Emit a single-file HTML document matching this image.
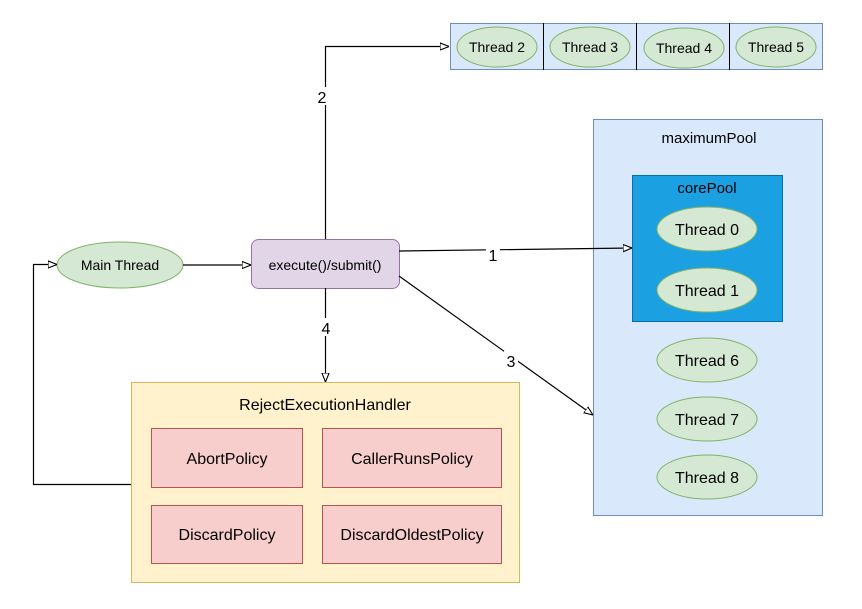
<!DOCTYPE html>
<html><head><meta charset="utf-8"><style>html,body{margin:0;padding:0;background:#fff}svg{display:block}</style></head>
<body>
<svg width="862" height="609" viewBox="0 0 862 609" xmlns="http://www.w3.org/2000/svg" font-family="'Liberation Sans', sans-serif">
<defs>
<marker id="a" viewBox="0 0 10 10" refX="10" refY="5" markerWidth="9" markerHeight="9" orient="auto" markerUnits="userSpaceOnUse">
<path d="M0,1 L10,5 L0,9 Z" fill="#fff" stroke="#000" stroke-width="1.2"/>
</marker>
</defs>
<!-- thread bar -->
<rect x="450.5" y="23.5" width="372" height="46" fill="#dae8fc" stroke="#6c8ebf"/>
<g stroke="#000"><line x1="543.5" y1="23" x2="543.5" y2="70"/><line x1="636.5" y1="23" x2="636.5" y2="70"/><line x1="729.5" y1="23" x2="729.5" y2="70"/></g>
<g fill="#d5e8d4" stroke="#82b366">
<ellipse cx="497" cy="47" rx="40" ry="20"/><ellipse cx="590" cy="47" rx="40" ry="20"/><ellipse cx="684" cy="48" rx="40" ry="20"/><ellipse cx="776" cy="47" rx="40" ry="20"/>
</g>
<g font-size="14" text-anchor="middle" fill="#000">
<text x="497" y="52">Thread 2</text><text x="590" y="52">Thread 3</text><text x="684" y="53">Thread 4</text><text x="776" y="52">Thread 5</text>
</g>
<!-- maximum pool -->
<rect x="593.5" y="119.5" width="229" height="396" fill="#dae8fc" stroke="#6c8ebf"/>
<text x="709" y="143" font-size="15" text-anchor="middle">maximumPool</text>
<rect x="632.5" y="175.5" width="150" height="146" fill="#1ba1e2" stroke="#006eaf"/>
<text x="707" y="193" font-size="15" text-anchor="middle">corePool</text>
<g fill="#d5e8d4" stroke="#82b366">
<ellipse cx="707" cy="229" rx="50" ry="22"/><ellipse cx="707" cy="290" rx="50" ry="22"/><ellipse cx="707" cy="360" rx="50" ry="22"/><ellipse cx="707" cy="419" rx="50" ry="22"/><ellipse cx="707" cy="477" rx="50" ry="22"/>
</g>
<g font-size="16" text-anchor="middle">
<text x="707" y="235">Thread 0</text><text x="707" y="296">Thread 1</text><text x="707" y="366">Thread 6</text><text x="707" y="425">Thread 7</text><text x="707" y="483">Thread 8</text>
</g>
<!-- main -->
<ellipse cx="120" cy="265" rx="63" ry="23" fill="#d5e8d4" stroke="#82b366"/>
<text x="120" y="270" font-size="14" text-anchor="middle">Main Thread</text>
<rect x="251.5" y="239.5" width="148" height="49" rx="7" fill="#e1d5e7" stroke="#9673a6"/>
<text x="325" y="270" font-size="14" text-anchor="middle">execute()/submit()</text>
<!-- reject -->
<rect x="131.5" y="382.5" width="388" height="200" fill="#fff2cc" stroke="#d6b656"/>
<text x="325" y="410" font-size="16" text-anchor="middle">RejectExecutionHandler</text>
<g fill="#f8cecc" stroke="#b85450">
<rect x="151.5" y="428.5" width="151" height="59"/><rect x="322.5" y="428.5" width="179" height="59"/>
<rect x="151.5" y="505.5" width="151" height="58"/><rect x="322.5" y="505.5" width="179" height="58"/>
</g>
<g font-size="16" text-anchor="middle">
<text x="227" y="464">AbortPolicy</text><text x="412" y="464">CallerRunsPolicy</text>
<text x="227" y="540">DiscardPolicy</text><text x="412" y="540">DiscardOldestPolicy</text>
</g>
<!-- edges -->
<g stroke="#000" stroke-width="1.2" fill="none">
<line x1="183" y1="265" x2="251" y2="265" marker-end="url(#a)"/>
<line x1="399" y1="251" x2="632" y2="248" marker-end="url(#a)"/>
<polyline points="325.5,239 325.5,46.5 449,46.5" marker-end="url(#a)"/>
<line x1="399" y1="276" x2="593" y2="415" marker-end="url(#a)"/>
<line x1="325.5" y1="288" x2="325.5" y2="382" marker-end="url(#a)"/>
<polyline points="131,484.5 33.5,484.5 33.5,264.5 57,264.5" marker-end="url(#a)"/>
</g>
<g font-size="16" text-anchor="middle">
<rect x="486" y="245" width="14" height="18" fill="#fff"/><text x="493" y="261">1</text>
<rect x="315" y="87" width="14" height="18" fill="#fff"/><text x="322" y="103">2</text>
<rect x="504" y="351" width="14" height="18" fill="#fff"/><text x="511" y="367">3</text>
<rect x="319" y="318" width="14" height="18" fill="#fff"/><text x="326" y="334">4</text>
</g>
</svg>
</body></html>
